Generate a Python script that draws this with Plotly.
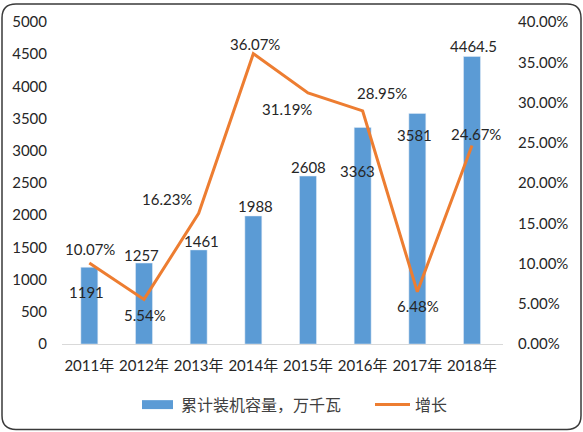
import plotly.graph_objects as go

years = ["2011年", "2012年", "2013年", "2014年", "2015年", "2016年", "2017年", "2018年"]
capacity = [1191, 1257, 1461, 1988, 2608, 3363, 3581, 4464.5]
capacity_labels = ["1191", "1257", "1461", "1988", "2608", "3363", "3581", "4464.5"]
growth = [0.1007, 0.0554, 0.1623, 0.3607, 0.3119, 0.2895, 0.0648, 0.2467]
growth_labels = ["10.07%", "5.54%", "16.23%", "36.07%", "31.19%", "28.95%", "6.48%", "24.67%"]

bar_name = "累计装机容量，万千瓦"
line_name = "增长"

# label offsets in pixels (style only)
bar_off = [(-3, -25), (-3, 8), (3, 9), (2, 10), (0, 9), (-5, -44), (-3, -22), (1, 10)]
line_off = [(1, 14), (1, -16), (-32, 14), (2, 10), (-21, -16), (19, 18), (1, -14), (4, 11)]

W, H = 583, 432
L, R, T, B = 62, 80, 20, 88
PW, PH = W - L - R, H - T - B

def px(x):
    return (x - L) / PW

def py(y):
    return (H - B - y) / PH

FONT = "Lato, 'Noto Sans CJK SC', sans-serif"
TXT = "#262626"
BLUE = "#5B9BD5"
ORANGE = "#ED7D31"

fig = go.Figure()
fig.add_trace(go.Bar(x=years, y=capacity, name=bar_name, marker_color=BLUE,
                     showlegend=False))
fig.add_trace(go.Scatter(x=years, y=growth, name=line_name, mode="lines",
                         line=dict(color=ORANGE, width=3), yaxis="y2",
                         showlegend=False))

ann = []
for x, v, t, (dx, dy) in zip(years, capacity, capacity_labels, bar_off):
    ann.append(dict(x=x, y=v, xref="x", yref="y", text=t, showarrow=False,
                    xshift=dx, yshift=dy, font=dict(size=15, color=TXT, family=FONT)))
for x, v, t, (dx, dy) in zip(years, growth, growth_labels, line_off):
    ann.append(dict(x=x, y=v, xref="x", yref="y2", text=t, showarrow=False,
                    xshift=dx, yshift=dy, font=dict(size=15, color=TXT, family=FONT)))

# custom legend
ann.append(dict(x=px(179), y=py(405), xref="paper", yref="paper", text=bar_name,
                showarrow=False, xanchor="left", yanchor="middle",
                font=dict(size=16, color="#404040", family=FONT)))
ann.append(dict(x=px(413), y=py(405), xref="paper", yref="paper", text=line_name,
                showarrow=False, xanchor="left", yanchor="middle",
                font=dict(size=16, color="#404040", family=FONT)))

shapes = [
    dict(type="rect", xref="paper", yref="paper", x0=px(142), x1=px(173),
         y0=py(409.5), y1=py(400.5), fillcolor=BLUE, line=dict(width=0)),
    dict(type="line", xref="paper", yref="paper", x0=px(375), x1=px(410),
         y0=py(405), y1=py(405), line=dict(color=ORANGE, width=3)),
]

# rounded border
x0, x1, y0, y1, r = 2, 581, 2, 430, 14
path = (f"M {px(x0 + r)},{py(y0)} L {px(x1 - r)},{py(y0)} "
        f"Q {px(x1)},{py(y0)} {px(x1)},{py(y0 + r)} "
        f"L {px(x1)},{py(y1 - r)} Q {px(x1)},{py(y1)} {px(x1 - r)},{py(y1)} "
        f"L {px(x0 + r)},{py(y1)} Q {px(x0)},{py(y1)} {px(x0)},{py(y1 - r)} "
        f"L {px(x0)},{py(y0 + r)} Q {px(x0)},{py(y0)} {px(x0 + r)},{py(y0)} Z")
shapes.append(dict(type="path", xref="paper", yref="paper", path=path,
                   line=dict(color="#3a3a3a", width=1.5), layer="above"))

fig.update_layout(
    width=W, height=H,
    margin=dict(l=L, r=R, t=T, b=B),
    paper_bgcolor="white", plot_bgcolor="white",
    bargap=0.69,
    showlegend=False,
    font=dict(family=FONT, size=15, color=TXT),
    xaxis=dict(showgrid=False, showline=True, linecolor="#D9D9D9", linewidth=1,
               ticks="", ticklabelstandoff=8, zeroline=False,
               tickfont=dict(size=15, color=TXT)),
    yaxis=dict(range=[0, 5000], dtick=500, showgrid=False, zeroline=False,
               ticks="", ticklabelstandoff=14, showline=False,
               tickfont=dict(size=15, color=TXT)),
    yaxis2=dict(range=[0, 0.4], dtick=0.05, tickformat=".2%", overlaying="y",
                side="right", showgrid=False, zeroline=False, ticks="",
                ticklabelstandoff=14, showline=False,
                tickfont=dict(size=15, color=TXT)),
    annotations=ann,
    shapes=shapes,
)

fig.write_html("out.html", config={"displayModeBar": False},
               post_script="document.body.style.margin='0';")
